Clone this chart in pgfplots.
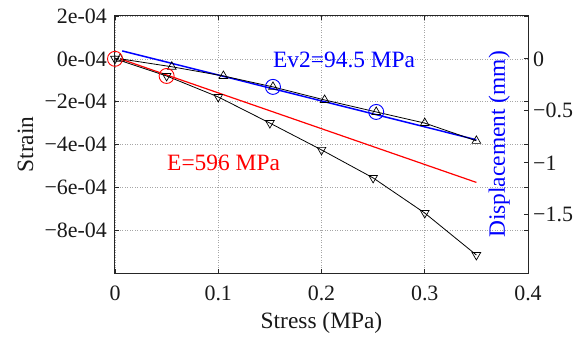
\documentclass[border=0pt]{standalone}
\usepackage{fontspec}
\setmainfont{Liberation Serif}
\usepackage{pgfplots}
\pgfplotsset{compat=1.18}
\begin{document}
\begin{tikzpicture}
\pgfplotsset{
  myaxis/.style={
    scale only axis, width=413bp, height=257bp,
    xmin=0, xmax=0.4,
    tick align=inside, major tick length=4bp,
    axis line style={line width=1bp, black!85},
    tick style={line width=0.8bp, black!85},
    tick label style={font=\fontsize{22}{26}\selectfont, inner sep=0pt, text=black!90},
    clip=false,
  }
}
\begin{axis}[
  myaxis,
  ymin=-1e-3, ymax=2e-4,
  xtick={0,0.1,0.2,0.3,0.4}, xticklabels={0,0.1,0.2,0.3,0.4},
  ytick={-8e-4,-6e-4,-4e-4,-2e-4,0,2e-4},
  yticklabels={−8e-04,−6e-04,−4e-04,−2e-04,0e-04,2e-04},
  scaled y ticks=false, scaled x ticks=false,
  grid=major,
  grid style={gray!70, line width=0.5bp, dash pattern=on 1bp off 1.5bp},
  xticklabel style={yshift=-13bp},
  yticklabel style={xshift=-8bp},
]
\coordinate (sw) at (rel axis cs:0,0);
% red fitted line
\addplot[red, line width=1.2bp] coordinates {(0.005,0.0) (0.35,-5.77e-4)};
% blue fitted line
\addplot[blue, line width=1.5bp] coordinates {(0.007,0.37e-4) (0.35,-3.78e-4)};
% black series, up triangles
\addplot[black, line width=0.8bp, mark=triangle, mark size=5bp, mark options={solid, line width=0.7bp}]
  coordinates {(0.005,0) (0.055,-0.37e-4) (0.105,-0.8e-4) (0.153,-1.31e-4) (0.203,-1.92e-4) (0.253,-2.48e-4) (0.30,-3.0e-4) (0.35,-3.83e-4)};
% black series, down triangles
\addplot[black, line width=0.8bp, mark=triangle, mark size=5bp, mark options={solid, rotate=180, line width=0.7bp}]
  coordinates {(0,0) (0.05,-0.8e-4) (0.10,-1.78e-4) (0.15,-3.0e-4) (0.20,-4.25e-4) (0.25,-5.56e-4) (0.30,-7.2e-4) (0.35,-9.16e-4)};
% highlighted points
\addplot[only marks, red, mark=o, mark size=7.5bp, mark options={line width=0.9bp}]
  coordinates {(0,0) (0.05,-0.8e-4)};
\addplot[only marks, blue, mark=o, mark size=7.5bp, mark options={line width=0.9bp}]
  coordinates {(0.153,-1.31e-4) (0.253,-2.48e-4)};
\node[blue, anchor=base west, inner sep=0pt, font=\fontsize{23.5}{28}\selectfont] at (axis cs:0.153,-0.397e-4) {Ev2=94.5 MPa};
\node[red, anchor=base west, inner sep=0pt, font=\fontsize{23.5}{28}\selectfont] at (axis cs:0.0504,-5.23e-4) {E=596 MPa};
\node[blue, rotate=90, anchor=base, inner sep=0pt, font=\fontsize{23.5}{28}\selectfont] at (rel axis cs:0.944,0.5) {Displacement (mm)};
\node[rotate=90, anchor=base, inner sep=0pt, font=\fontsize{23.5}{28}\selectfont, text=black!90] at (rel axis cs:-0.1985,0.5) {Strain};
\node[anchor=base, inner sep=0pt, font=\fontsize{23.5}{28}\selectfont, text=black!90] at (rel axis cs:0.5,-0.214) {Stress (MPa)};
\end{axis}
\begin{axis}[
  myaxis,
  ymin=-2.059, ymax=0.412,
  axis x line=none, axis y line*=right,
  ytick={-1.5,-1,-0.5,0}, yticklabels={−1.5,−1,−0.5,0},
  yticklabel style={xshift=5bp},
]
\addplot[draw=none] coordinates {(0,0)};
\end{axis}
\pgfresetboundingbox
\path (sw) ++(-115bp,-64bp) rectangle ++(580bp,337bp);
\end{tikzpicture}
\end{document}
